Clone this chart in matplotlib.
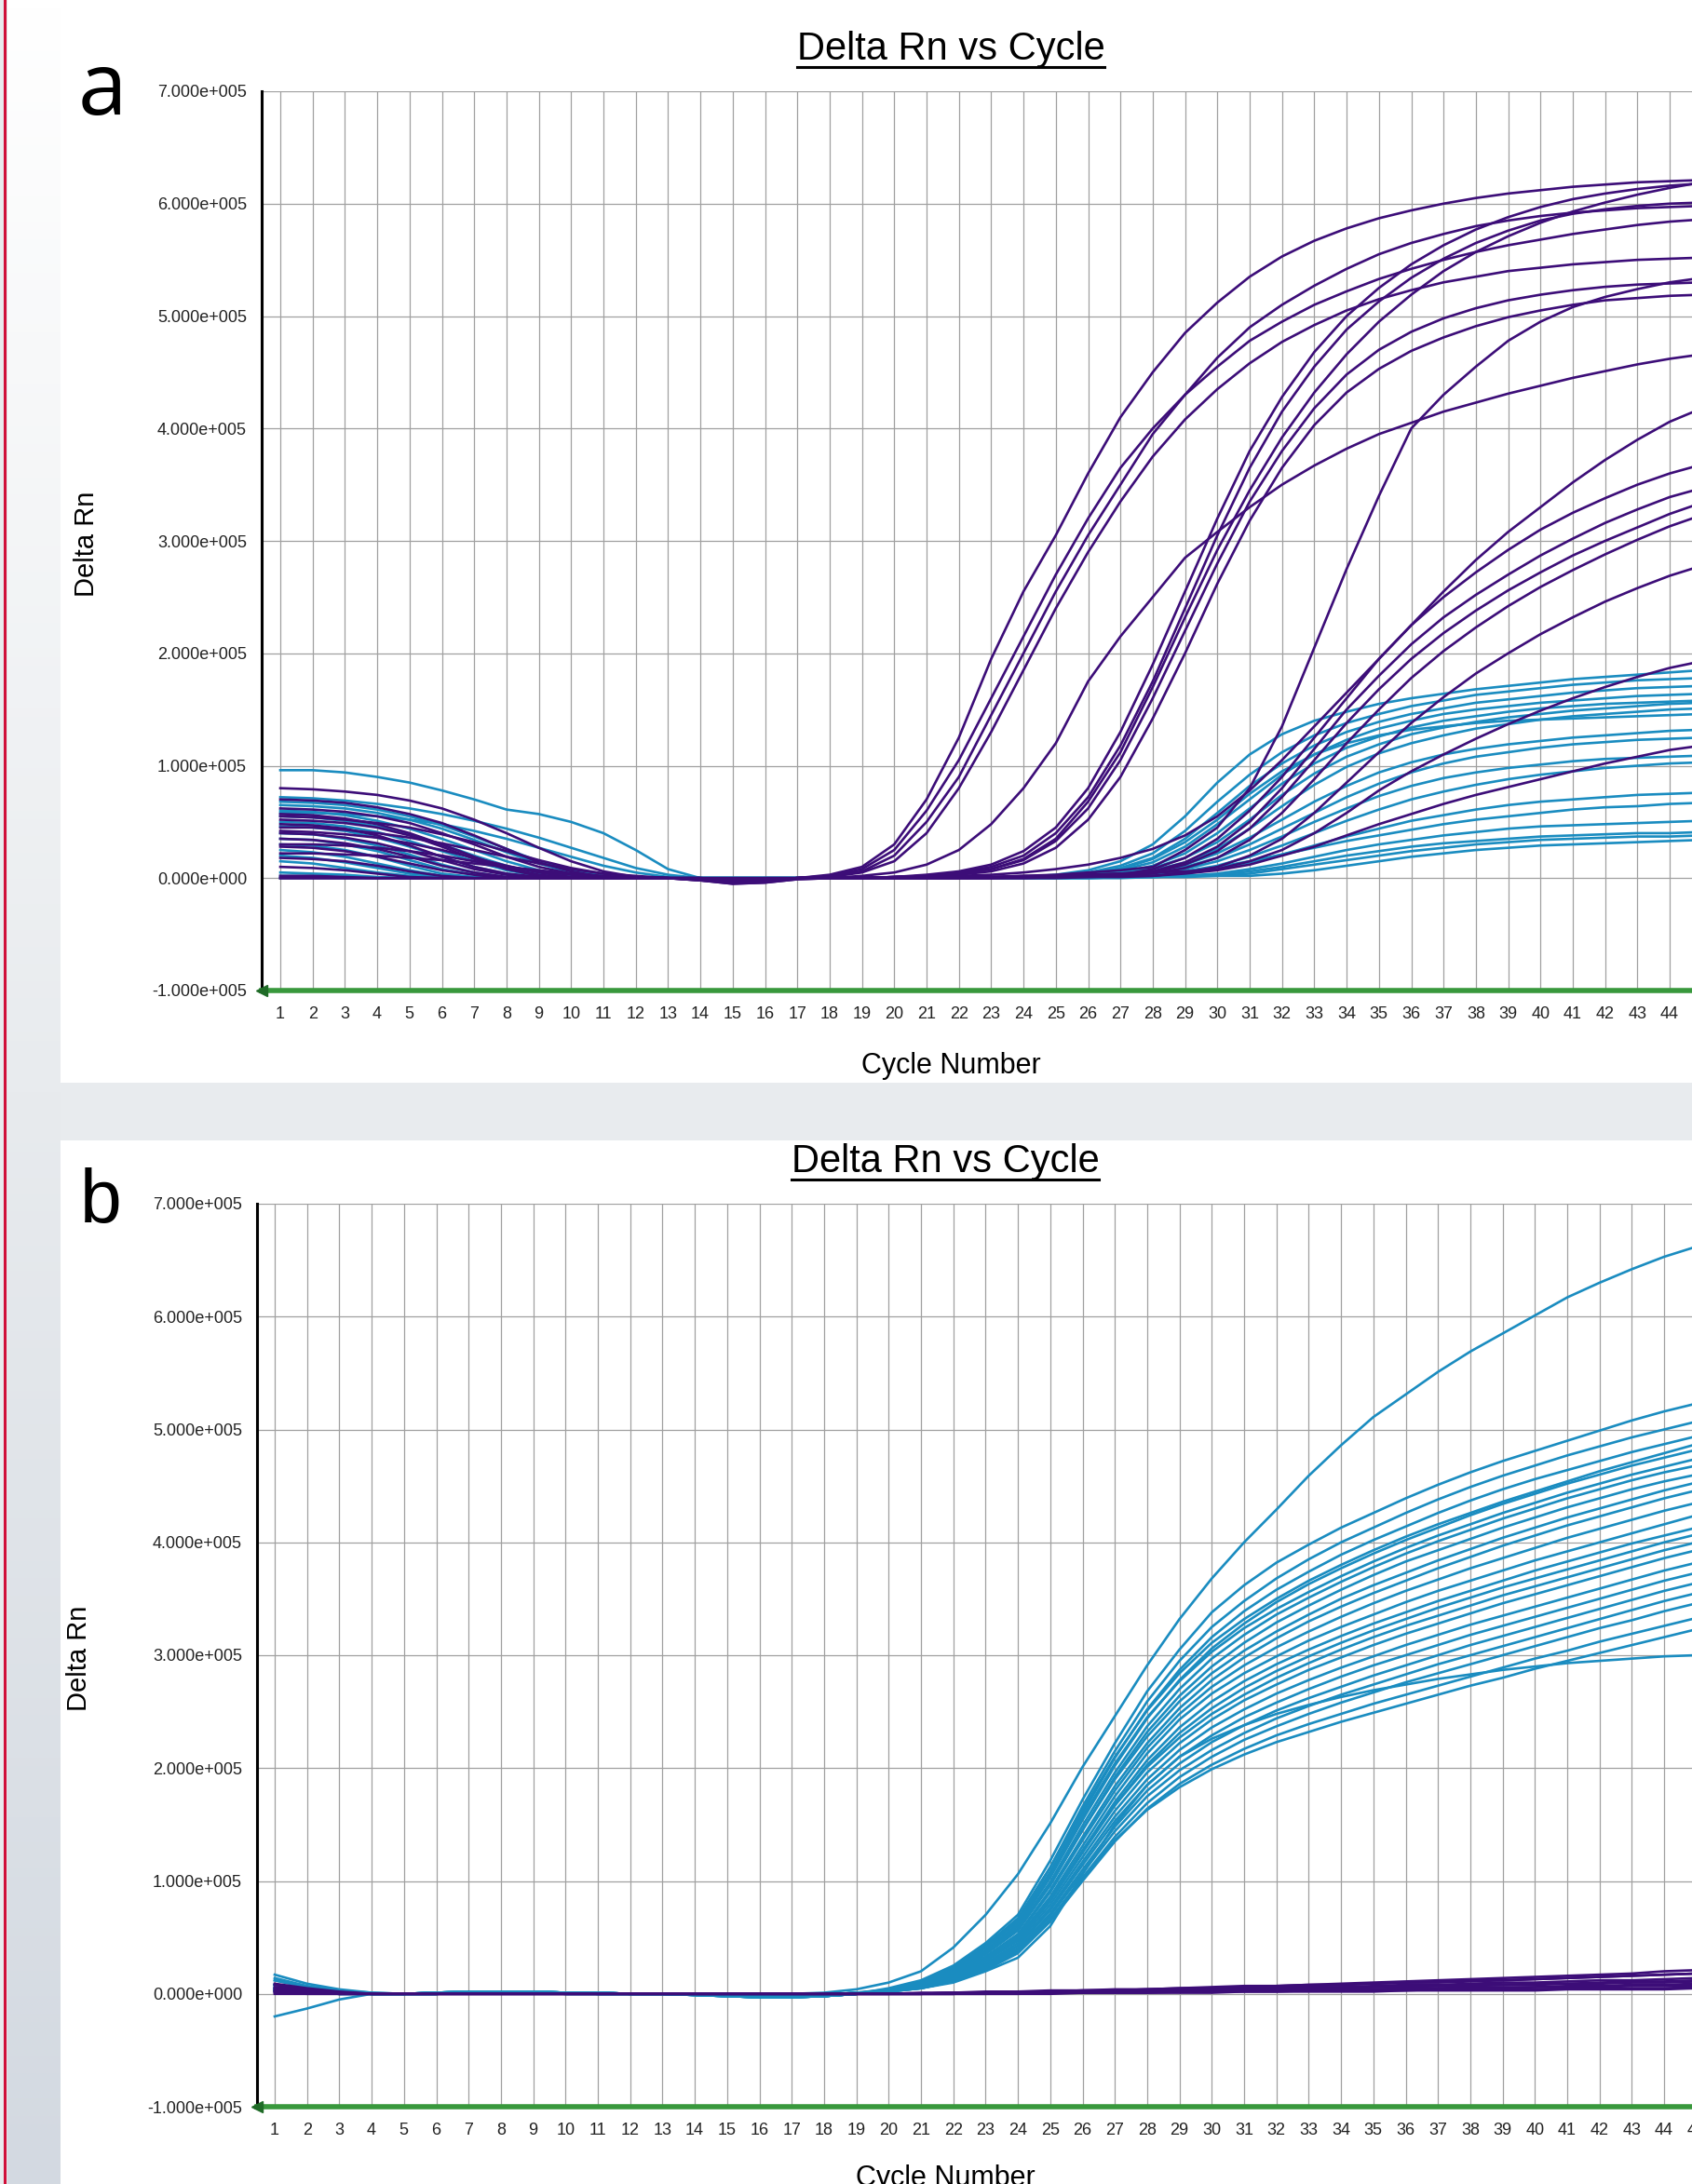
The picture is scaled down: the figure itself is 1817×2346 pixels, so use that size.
import numpy as np
import matplotlib
matplotlib.use('Agg')
import matplotlib.pyplot as plt
from matplotlib.lines import Line2D
from matplotlib.patches import Rectangle
from matplotlib.colors import LinearSegmentedColormap

plt.rcParams['font.family'] = ['Liberation Sans', 'DejaVu Sans']

W, H, DPI = 1817, 2346, 100

cycles = list(range(1, 46))
y_ticks = [-100000, 0, 100000, 200000, 300000, 400000, 500000, 600000, 700000]
y_tick_labels = ['-1.000e+005', '0.000e+000', '1.000e+005', '2.000e+005', '3.000e+005',
                 '4.000e+005', '5.000e+005', '6.000e+005', '7.000e+005']

# Delta Rn per cycle (cycles 1..45), in thousands
a_purple = [
    [80,79,77,74,69,62,52,40,27,15,6,1,0,0,-1,-1,0,3,10,30,70,125,195,255,305,360,410,450,485,512,535,553,567,578,587,594,600,605,609,612,615,617,619,620,621],
    [70,69,67,63,57,49,38,26,14,6,1,0,0,0,-1,-1,0,2,8,25,60,105,160,215,270,320,365,400,430,455,478,495,510,522,533,542,550,557,563,568,573,577,581,584,586],
    [62,61,59,55,49,40,30,19,10,4,1,0,0,-1,-2,-1,0,2,6,20,50,90,145,200,255,305,350,395,430,463,490,510,527,542,555,565,573,580,585,589,592,594,596,597,598],
    [57,56,53,48,40,30,19,9,3,0,0,0,0,-1,-2,-1,0,1,5,15,40,80,130,185,240,290,335,375,408,435,458,477,492,505,515,523,530,535,540,543,546,548,550,551,552],
    [52,51,49,45,38,28,17,8,2,0,0,0,0,-2,-4,-3,0,0,0,1,3,6,12,24,45,80,130,190,255,320,380,428,468,500,525,546,563,577,588,597,604,609,613,616,618],
    [48,47,44,38,29,19,10,4,1,0,0,0,0,-1,-3,-2,0,0,0,1,2,5,10,20,40,72,118,175,240,305,365,415,455,488,513,534,551,565,576,585,591,595,598,600,601],
    [45,45,43,40,36,31,25,19,13,8,4,2,0,-2,-5,-4,-1,0,0,1,2,4,8,16,33,62,105,160,220,280,335,380,418,448,470,486,498,507,514,519,523,526,528,529,530],
    [40,39,36,31,24,16,8,3,0,0,0,0,0,-1,-2,-1,0,0,0,0,1,3,6,13,27,52,90,142,200,262,318,365,403,432,453,469,481,491,499,505,510,514,516,518,519],
    [35,34,31,26,19,11,5,1,0,0,0,0,0,0,-1,-1,0,0,0,1,2,4,8,17,35,68,112,170,232,292,345,392,432,466,495,519,540,557,571,583,593,601,608,614,619],
    [28,27,24,19,13,7,3,0,0,0,0,0,0,-1,-2,-1,0,0,2,5,12,25,48,80,120,175,215,250,285,308,330,350,367,382,395,405,415,423,431,438,445,451,457,462,466],
    [18,17,15,11,6,2,0,0,0,0,0,0,0,-1,-1,-1,0,0,0,0,0,1,1,2,3,5,7,10,25,45,80,135,205,275,340,400,430,455,478,495,508,517,524,530,534],
    [22,22,21,20,18,16,13,10,7,4,2,0,0,0,-1,-1,0,0,0,1,1,2,3,5,8,12,18,26,38,55,78,105,135,165,195,225,255,283,308,330,352,372,390,406,418],
    [10,9,7,4,1,0,0,0,0,0,0,0,0,0,0,0,0,0,0,0,0,0,1,1,2,3,3,8,18,35,60,90,125,160,195,225,250,272,292,310,325,338,350,360,368],
    [55,54,52,49,45,39,32,24,16,9,4,1,0,-2,-5,-4,-1,0,0,0,0,1,1,2,2,3,4,6,14,28,50,80,115,150,180,208,232,252,270,287,302,316,328,339,347],
    [0,0,0,0,0,0,0,0,0,0,0,0,0,0,-1,0,0,0,0,0,0,0,0,1,1,2,2,5,12,24,44,72,105,138,168,195,218,238,256,272,287,300,312,324,334],
    [30,30,29,27,24,20,15,10,6,3,1,0,0,0,-1,-1,0,0,0,0,0,0,0,1,1,2,3,4,9,18,34,58,88,120,150,178,202,223,242,259,274,288,301,313,323],
    [2,2,1,0,0,0,0,0,0,0,0,0,0,0,0,0,0,0,0,0,0,0,0,0,1,1,2,2,5,10,20,35,58,85,112,138,161,182,200,217,232,246,258,269,278],
    [42,41,39,36,31,25,18,11,5,1,0,0,0,0,-1,-1,0,0,0,0,0,0,1,1,2,3,4,5,6,8,15,25,40,58,78,95,110,124,137,149,160,170,179,187,193],
    [0,0,0,0,0,0,0,0,0,0,0,0,0,0,0,0,0,0,0,0,0,0,0,0,0,1,1,2,4,7,12,20,28,38,48,57,66,74,81,88,95,102,108,114,118],
]

a_teal = [
    [96,96,94,90,85,78,70,61,57,50,40,25,8,0,0,0,0,0,0,0,0,0,0,1,3,7,15,30,55,85,110,128,140,148,155,160,164,168,171,174,177,179,181,183,185],
    [72,71,69,66,62,57,51,44,36,27,18,9,3,0,0,0,0,0,0,0,0,0,0,0,2,5,11,22,42,68,92,112,127,138,146,153,158,163,166,169,172,174,176,177,178],
    [68,67,65,61,55,47,37,26,15,7,2,0,0,0,0,0,0,0,0,0,0,0,0,0,1,4,9,18,35,58,82,102,118,130,139,146,151,156,159,162,165,167,169,170,171],
    [65,64,62,58,52,44,34,23,13,5,1,0,0,0,0,0,0,0,0,0,0,0,0,0,0,3,7,14,28,48,70,92,110,123,133,140,146,150,153,156,158,160,162,163,164],
    [60,59,56,51,44,35,25,15,7,2,0,0,0,0,0,0,0,0,0,0,0,0,0,0,0,2,5,11,22,40,62,84,102,116,126,134,140,144,148,151,153,155,156,157,158],
    [55,54,51,46,39,30,20,11,4,1,0,0,0,0,0,0,0,0,0,0,0,0,0,0,0,1,4,9,18,32,52,74,93,108,119,128,134,139,143,146,149,151,153,155,156],
    [50,49,46,41,33,24,15,7,2,0,0,0,0,0,0,0,0,0,0,0,0,0,0,0,0,1,3,7,14,26,44,64,83,99,111,120,127,133,137,141,144,146,148,150,151],
    [46,45,42,36,28,19,10,4,1,0,0,0,0,0,0,0,0,0,0,0,0,0,0,0,0,1,3,6,12,22,36,52,68,82,94,103,110,115,119,122,125,127,129,131,132],
    [40,39,35,29,21,12,5,1,0,0,0,0,0,0,0,0,0,0,0,0,0,0,0,0,0,1,2,5,10,18,30,44,58,72,84,94,102,108,112,116,119,121,123,124,125],
    [35,34,30,24,16,8,3,0,0,0,0,0,0,0,0,0,0,0,0,0,0,0,0,0,0,1,2,4,8,15,25,37,50,62,73,82,89,94,98,101,104,106,107,108,109],
    [30,29,25,19,11,4,1,0,0,0,0,0,0,0,0,0,0,0,0,0,0,0,0,0,0,1,2,3,6,11,19,29,40,51,61,70,77,83,88,92,95,98,100,102,103],
    [25,23,19,13,7,2,0,0,0,0,0,0,0,0,0,0,0,0,0,0,0,0,0,0,0,1,1,2,4,8,14,21,29,37,44,51,56,61,65,68,70,72,74,75,76],
    [20,18,14,9,4,1,0,0,0,0,0,0,0,0,0,0,0,0,0,0,0,0,0,0,0,1,1,2,2,4,8,13,19,25,30,34,38,41,44,46,47,48,49,50,51],
    [15,13,9,5,2,0,0,0,0,0,0,0,0,0,0,0,0,0,0,0,0,0,0,0,0,0,1,1,2,3,6,10,15,20,24,28,31,33,35,37,38,39,40,40,41],
    [5,4,3,1,0,0,0,0,0,0,0,0,0,0,0,0,0,0,0,0,0,0,0,0,0,0,1,1,2,2,4,8,12,16,20,24,27,30,32,34,35,36,37,37,38],
    [2,2,1,0,0,0,0,0,0,0,0,0,0,0,0,0,0,0,0,0,0,0,0,0,0,0,0,1,1,2,2,4,7,11,15,19,22,25,27,29,30,31,32,33,34],
    [58,58,57,55,52,48,42,35,27,19,11,5,1,0,0,0,0,0,0,0,0,0,0,0,1,3,8,17,32,52,75,95,110,120,127,132,135,138,140,141,142,143,144,145,146],
    [0,0,0,0,0,0,0,0,0,0,0,0,0,0,0,0,0,0,0,0,0,0,0,0,0,1,2,3,6,10,15,21,27,33,38,43,48,52,55,58,61,63,64,66,67],
]

b_teal = [
    [3,1,0,0,0,0,1,1,1,0,0,0,0,0,-1,-1,0,1,4,10,20,41,70,106,151,201,246,291,332,368,400,429,459,486,511,531,551,569,585,601,617,630,642,653,662],
    [17,9,4,1,0,0,1,1,1,1,1,0,0,0,0,-1,-1,-1,0,5,12,25,45,70,118,172,222,268,305,338,362,382,398,413,426,439,451,462,472,481,490,499,508,516,523],
    [8,4,1,0,0,0,1,1,1,1,0,0,0,0,-1,-2,-2,-1,1,4,11,23,42,66,112,166,215,259,295,325,348,368,385,400,413,426,438,449,459,468,477,485,493,500,507],
    [5,2,1,0,0,1,2,2,2,1,1,0,0,-1,-2,-3,-3,-2,0,4,10,22,41,64,108,160,209,252,287,316,339,358,374,389,402,414,426,437,447,456,464,472,480,487,494],
    [12,6,2,0,0,1,1,2,2,1,1,0,0,0,-1,-1,-2,-2,0,4,11,23,43,67,112,163,210,251,284,311,332,350,366,380,393,405,416,426,436,445,454,463,471,479,487],
    [3,1,0,0,0,0,1,1,1,0,0,0,0,0,-1,-1,-1,-1,0,3,9,20,38,60,103,154,202,244,278,306,328,347,363,377,390,402,413,424,434,443,452,460,468,475,482],
    [14,7,3,1,0,0,1,1,1,1,0,0,0,-1,-2,-3,-3,-2,0,4,10,21,39,62,106,157,204,245,277,303,324,341,356,370,383,395,406,416,426,435,444,452,460,467,474],
    [5,2,1,0,0,1,2,2,2,1,1,0,0,-1,-2,-3,-3,-2,0,3,9,19,36,58,99,149,196,237,270,297,318,336,351,365,378,390,401,411,421,430,439,447,455,462,468],
    [8,4,1,0,0,0,1,1,1,1,0,0,0,0,-1,-2,-2,-1,1,3,8,18,35,56,96,145,192,232,264,290,311,329,344,358,371,383,393,403,413,422,431,439,447,454,460],
    [3,1,0,0,0,0,1,1,1,0,0,0,0,0,-1,-1,-1,-1,0,3,9,19,36,57,97,145,190,228,259,284,304,321,336,350,362,373,384,394,404,413,422,430,438,446,453],
    [-20,-13,-5,0,0,0,1,1,1,1,0,0,0,0,-1,-1,-2,-1,0,3,8,17,33,53,92,139,184,222,253,278,298,315,330,343,355,366,377,387,397,406,415,423,431,439,446],
    [5,2,1,0,0,1,2,2,2,1,1,0,0,-1,-2,-3,-3,-2,0,3,8,17,32,52,90,136,180,218,248,272,291,307,321,334,346,357,367,377,386,395,404,412,420,428,435],
    [3,1,0,0,0,0,1,1,1,0,0,0,0,0,-1,-1,-1,-1,0,3,8,16,31,50,86,131,175,213,243,266,284,299,313,325,336,347,357,366,375,384,392,400,408,416,424],
    [8,4,1,0,0,0,1,1,1,1,0,0,0,0,-1,-2,-2,-1,1,2,7,15,29,48,83,127,170,207,236,259,277,292,305,317,328,338,348,357,366,375,383,391,399,406,413],
    [5,2,1,0,0,1,2,2,2,1,1,0,0,-1,-2,-3,-3,-2,0,2,7,15,29,47,82,125,167,203,231,253,271,286,299,311,322,332,342,351,360,368,376,384,392,400,407],
    [12,6,2,0,0,1,1,2,2,1,1,0,0,0,-1,-1,-2,-2,0,3,8,16,30,49,84,127,167,201,227,248,265,280,293,305,316,326,335,344,353,361,369,377,385,393,400],
    [3,1,0,0,0,0,1,1,1,0,0,0,0,0,-1,-1,-1,-1,0,2,7,14,27,45,79,121,162,196,222,243,260,274,287,298,309,319,328,337,346,354,362,370,378,386,393],
    [5,2,1,0,0,1,2,2,2,1,1,0,0,-1,-2,-3,-3,-2,0,2,6,13,26,43,76,117,157,190,216,236,252,266,278,289,299,309,318,327,335,343,351,359,367,375,382],
    [8,4,1,0,0,0,1,1,1,1,0,0,0,0,-1,-2,-2,-1,1,2,6,13,25,42,74,114,153,185,210,229,245,258,270,281,291,300,309,318,326,334,342,350,358,366,373],
    [3,1,0,0,0,0,1,1,1,0,0,0,0,0,-1,-1,-1,-1,0,2,6,12,24,40,71,110,148,180,204,223,238,251,262,272,282,291,300,309,317,325,333,341,349,357,364],
    [5,2,1,0,0,1,2,2,2,1,1,0,0,-1,-2,-3,-3,-2,0,2,6,12,23,39,69,107,144,175,198,216,231,244,255,265,274,283,292,300,308,316,324,332,340,348,355],
    [8,4,1,0,0,0,1,1,1,1,0,0,0,0,-1,-2,-2,-1,1,2,5,11,22,37,66,103,139,169,192,210,225,237,248,258,267,276,284,292,300,308,316,324,331,339,346],
    [3,1,0,0,0,0,1,1,1,0,0,0,0,0,-1,-1,-1,-1,0,2,5,11,21,36,64,100,135,164,186,203,217,229,239,248,257,265,273,281,289,297,304,312,319,326,333],
    [5,2,1,0,0,1,2,2,2,1,1,0,0,-1,-2,-3,-3,-2,0,2,5,11,22,38,66,102,136,163,183,199,212,223,232,241,249,257,265,273,280,288,295,302,309,316,323],
    [8,4,1,0,0,0,1,1,1,1,0,0,0,0,-1,-2,-2,-1,1,2,5,10,20,32,60,106,150,185,210,226,238,248,256,263,269,274,279,283,287,290,293,295,297,299,300],
]

b_purple = [
    [9,5,2,0,0,0,0,0,0,0,0,0,0,0,0,0,0,0,0,0,1,1,2,2,3,3,4,4,5,6,7,7,8,9,10,11,12,13,14,15,16,17,18,20,21],
    [6,3,1,0,0,0,0,0,0,0,0,0,0,0,0,0,0,0,0,0,0,1,1,2,2,3,3,4,4,5,6,6,7,8,9,10,10,11,12,13,14,15,16,17,18],
    [5,2,1,0,0,0,0,0,0,0,0,0,0,0,0,0,0,0,0,0,0,1,1,1,2,2,3,3,4,4,5,5,6,6,7,8,8,9,10,10,11,12,12,13,14],
    [3,1,0,0,0,0,0,0,0,0,0,0,0,0,0,0,0,0,0,0,0,0,1,1,1,2,2,2,3,3,4,4,5,5,6,6,7,7,8,8,9,9,10,10,11],
    [2,1,0,0,0,0,0,0,0,0,0,0,0,0,0,0,0,0,0,0,0,0,0,1,1,1,2,2,2,3,3,3,4,4,4,5,5,6,6,6,7,7,8,8,9],
    [8,4,1,0,0,0,0,0,0,0,0,0,0,0,0,0,0,0,0,0,0,0,1,1,1,1,2,2,2,2,3,3,3,4,4,4,5,5,5,6,6,6,7,7,7],
    [1,0,0,0,0,0,0,0,0,0,0,0,0,0,0,0,0,0,0,0,0,0,0,0,1,1,1,1,2,2,2,2,3,3,3,3,4,4,4,4,5,5,5,5,6],
    [4,2,0,0,0,0,0,0,0,0,0,0,0,0,0,0,0,0,0,0,0,0,0,0,0,1,1,1,1,1,2,2,2,2,2,3,3,3,3,3,4,4,4,4,5],
    [0,0,0,0,0,0,0,0,0,0,0,0,0,0,0,0,0,0,0,0,0,1,1,2,2,3,3,4,5,5,6,7,8,8,9,10,11,12,12,13,14,15,16,17,18],
    [2,1,0,0,0,0,0,0,0,0,0,0,0,0,0,0,0,0,0,0,0,0,1,1,2,2,2,3,3,4,4,5,5,6,6,7,7,8,8,9,9,10,11,11,12],
]

PURPLE = '#3c0d78'
TEAL = '#1a8cc0'
GRID = '#a0a0a0'
GREEN = '#38983c'
PXC = 34.7  # pixels per cycle
LW = 1.9


def fx(px):
    return px / W


def fy(py):
    return 1 - py / H


fig = plt.figure(figsize=(W / DPI, H / DPI), dpi=DPI)
fig.patch.set_facecolor('#e8ebee')

# left margin strip, fading from white to grey-blue
strip = fig.add_axes([fx(8), 0, fx(65) - fx(8), 1], zorder=-10)
cmap = LinearSegmentedColormap.from_list('strip', ['#ffffff', '#e8ebee', '#d3d9e1'])
strip.imshow(np.linspace(0, 1, 256).reshape(-1, 1), aspect='auto', cmap=cmap)
strip.set_axis_off()

fig.add_artist(Rectangle((fx(65), fy(1163)), 1 - fx(65), 1163 / H, transform=fig.transFigure,
                         facecolor='white', edgecolor='none', zorder=-5))
fig.add_artist(Rectangle((fx(65), 0), 1 - fx(65), fy(1225), transform=fig.transFigure,
                         facecolor='white', edgecolor='none', zorder=-5))
fig.add_artist(Line2D([fx(5), fx(5)], [0, 1], transform=fig.transFigure, color='#d0103a', lw=2.2))


def panel(top, bottom, axis_x, c1_x, teal_rows, purple_rows):
    x0 = 1 - (c1_x - axis_x) / PXC
    x1 = 46.0
    ax = fig.add_axes([fx(axis_x), fy(bottom), (x1 - x0) * PXC / W, (bottom - top) / H])
    ax.set_facecolor('white')
    for row in teal_rows:
        ax.plot(np.arange(1, len(row) + 1), np.array(row) * 1000, color=TEAL, lw=LW, zorder=3)
    for row in purple_rows:
        ax.plot(np.arange(1, len(row) + 1), np.array(row) * 1000, color=PURPLE, lw=LW, zorder=3)
    ax.set_xlim(x0, x1)
    ax.set_ylim(-100000, 700000)
    ax.set_xticks(cycles)
    ax.set_xticklabels([str(c) for c in cycles])
    ax.set_yticks(y_ticks)
    ax.set_yticklabels(y_tick_labels)
    ax.tick_params(length=0, labelsize=13, colors='#222222')
    ax.tick_params(axis='y', pad=11.5)
    ax.tick_params(axis='x', pad=12)
    ax.grid(True, color=GRID, lw=0.9)
    ax.set_axisbelow(True)
    for s in ('top', 'right'):
        ax.spines[s].set_visible(False)
    ax.spines['left'].set_color('black')
    ax.spines['left'].set_linewidth(2.2)
    ax.spines['bottom'].set_color(GREEN)
    ax.spines['bottom'].set_linewidth(4)
    ax.plot([x0], [-100000], marker='<', ms=9, color='#1f6b27', clip_on=False, zorder=6)
    return ax


ax_a = panel(98, 1064, 281, 301, a_teal, a_purple)
ax_b = panel(1293, 2263, 276, 295, b_teal, b_purple)

titles = []
for cx, base in ((1021, 64), (1015, 1259)):
    t = fig.text(fx(cx), fy(base), 'Delta Rn vs Cycle', ha='center', va='baseline', fontsize=30)
    titles.append((t, base))

fig.text(fx(1021), fy(1145), 'Cycle Number', ha='center', va='center', fontsize=22)
fig.text(fx(1015), fy(2340), 'Cycle Number', ha='center', va='center', fontsize=22)
fig.text(fx(93), fy(584), 'Delta Rn', ha='center', va='center', rotation=90, fontsize=21)
fig.text(fx(85), fy(1781), 'Delta Rn', ha='center', va='center', rotation=90, fontsize=21)

fig.text(fx(84), fy(123), 'a', ha='left', va='baseline', fontsize=68, family=['Open Sans', 'DejaVu Sans'])
fig.text(fx(86), fy(1313), 'b', ha='left', va='baseline', fontsize=58)

# underline the titles
fig.canvas.draw()
renderer = fig.canvas.get_renderer()
for t, base in titles:
    bb = t.get_window_extent(renderer)
    fig.add_artist(Line2D([bb.x0 / W, bb.x1 / W], [fy(base + 8), fy(base + 8)],
                          transform=fig.transFigure, color='black', lw=2.2))

fig.savefig('out.png', dpi=DPI, facecolor=fig.get_facecolor())
